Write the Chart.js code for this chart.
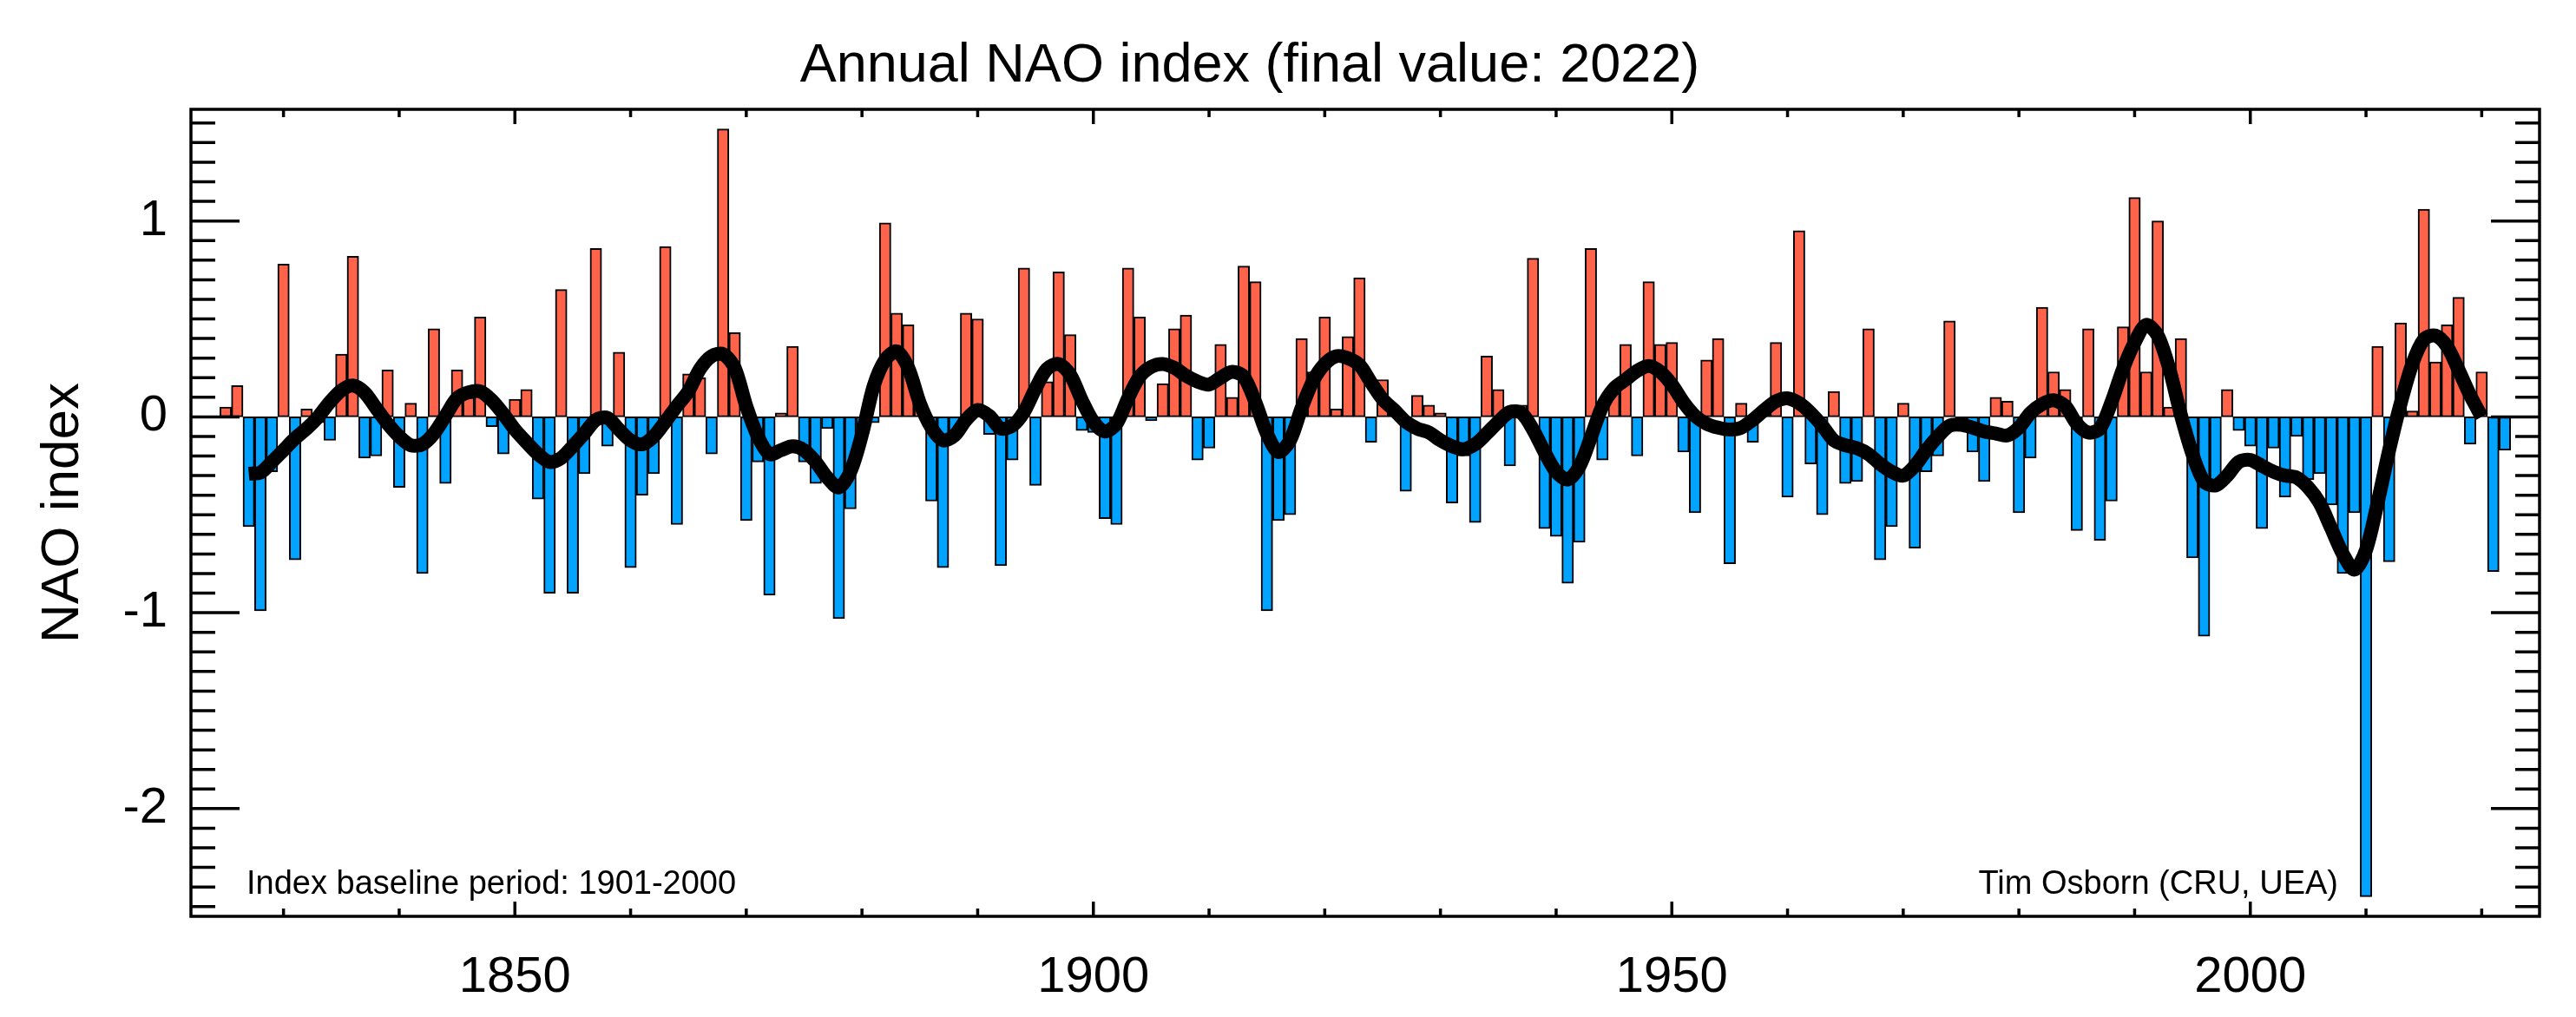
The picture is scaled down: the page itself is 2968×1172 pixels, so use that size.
<!DOCTYPE html>
<html lang="en">
<head>
<meta charset="UTF-8">
<title>Annual NAO index</title>
<script src="https://cdn.jsdelivr.net/npm/chart.js"></script>
<style>
  html, body { margin: 0; padding: 0; background: #fff; }
</style>
</head>
<body>
<canvas id="naoChart" width="2968" height="1172"></canvas>
<script>
// Annual NAO index, one value per year from 1825 to 2022
const firstYear = 1825;
const nao = [
  0.05, 0.16, -0.56, -0.99, -0.28,                                   // 1825-1829
  0.78, -0.73, 0.04, -0.03, -0.12, 0.32, 0.82, -0.21, -0.20, 0.24,   // 1830s
  -0.36, 0.07, -0.80, 0.45, -0.34, 0.24, 0.10, 0.51, -0.05, -0.19,   // 1840s
  0.09, 0.14, -0.42, -0.90, 0.65, -0.90, -0.29, 0.86, -0.15, 0.33,   // 1850s
  -0.77, -0.40, -0.29, 0.87, -0.55, 0.22, 0.20, -0.19, 1.47, 0.43,   // 1860s
  -0.53, -0.23, -0.91, 0.02, 0.36, -0.23, -0.34, -0.06, -1.03, -0.47, // 1870s
  -0.10, -0.03, 0.99, 0.53, 0.47, 0.05, -0.43, -0.77, -0.10, 0.53,   // 1880s
  0.50, -0.09, -0.76, -0.22, 0.76, -0.35, 0.18, 0.74, 0.42, -0.07,   // 1890s
  -0.08, -0.52, -0.55, 0.76, 0.51, -0.02, 0.17, 0.45, 0.52, -0.22,   // 1900s
  -0.16, 0.37, 0.10, 0.77, 0.69, -0.99, -0.53, -0.50, 0.40, 0.23,    // 1910s
  0.51, 0.04, 0.41, 0.71, -0.13, 0.19, 0.02, -0.38, 0.11, 0.06,      // 1920s
  0.02, -0.44, -0.20, -0.54, 0.31, 0.14, -0.25, 0.06, 0.81, -0.57,   // 1930s
  -0.61, -0.85, -0.64, 0.86, -0.22, 0.12, 0.37, -0.20, 0.69, 0.37,   // 1940s
  0.38, -0.18, -0.49, 0.29, 0.40, -0.75, 0.07, -0.13, 0.03, 0.38,    // 1950s
  -0.41, 0.95, -0.24, -0.50, 0.13, -0.34, -0.33, 0.45, -0.73, -0.56, // 1960s
  0.07, -0.67, -0.28, -0.20, 0.49, -0.05, -0.18, -0.33, 0.10, 0.08,  // 1970s
  -0.49, -0.21, 0.56, 0.23, 0.14, -0.58, 0.45, -0.63, -0.43, 0.46,   // 1980s
  1.12, 0.23, 1.00, 0.05, 0.40, -0.72, -1.12, -0.35, 0.14, -0.07,    // 1990s
  -0.15, -0.57, -0.16, -0.41, -0.10, -0.32, -0.29, -0.45, -0.80, -0.49, // 2000s
  -2.45, 0.36, -0.74, 0.48, 0.03, 1.06, 0.28, 0.47, 0.61, -0.14,     // 2010s
  0.23, -0.79, -0.17                                                 // 2020-2022
];
const years = nao.map((v, i) => firstYear + i);

// Smoothed curve (thick black line), 1827 to 2020
const smoothFirstYear = 1827;
const smooth = [
  -0.29, -0.285, -0.23,                                                     // 1827-1829
  -0.17, -0.11, -0.06, 0.0, 0.075, 0.135, 0.16, 0.125, 0.045, -0.035,       // 1830s
  -0.10, -0.145, -0.14, -0.085, 0.005, 0.095, 0.125, 0.13, 0.085, 0.015,    // 1840s
  -0.065, -0.13, -0.19, -0.23, -0.21, -0.15, -0.085, -0.015, -0.005, -0.065, // 1850s
  -0.12, -0.14, -0.10, -0.025, 0.055, 0.13, 0.245, 0.31, 0.32, 0.25,        // 1860s
  0.055, -0.10, -0.19, -0.17, -0.15, -0.17, -0.23, -0.31, -0.36, -0.28,     // 1870s
  -0.09, 0.155, 0.29, 0.335, 0.25, 0.07, -0.055, -0.12, -0.095, -0.015,     // 1880s
  0.035, 0.005, -0.06, -0.045, 0.025, 0.145, 0.245, 0.27, 0.215, 0.085,     // 1890s
  -0.025, -0.075, -0.035, 0.095, 0.205, 0.255, 0.27, 0.25, 0.21, 0.18,      // 1900s
  0.165, 0.20, 0.23, 0.205, 0.075, -0.085, -0.18, -0.12, 0.045, 0.185,      // 1910s
  0.27, 0.31, 0.30, 0.265, 0.175, 0.09, 0.035, -0.025, -0.06, -0.08,        // 1920s
  -0.12, -0.15, -0.165, -0.14, -0.085, -0.025, 0.025, 0.02, -0.065, -0.18,  // 1930s
  -0.28, -0.32, -0.255, -0.105, 0.055, 0.145, 0.19, 0.235, 0.26, 0.23,      // 1940s
  0.165, 0.075, 0.005, -0.035, -0.055, -0.065, -0.055, -0.015, 0.035, 0.08, // 1950s
  0.095, 0.07, 0.02, -0.045, -0.12, -0.145, -0.16, -0.19, -0.24, -0.28,     // 1960s
  -0.30, -0.25, -0.17, -0.10, -0.045, -0.04, -0.055, -0.075, -0.085, -0.095, // 1970s
  -0.055, 0.02, 0.065, 0.085, 0.055, -0.035, -0.08, -0.06, 0.075, 0.245,    // 1980s
  0.38, 0.47, 0.415, 0.245, 0.01, -0.19, -0.33, -0.35, -0.30, -0.23,        // 1990s
  -0.22, -0.25, -0.28, -0.30, -0.31, -0.36, -0.44, -0.57, -0.70, -0.78,     // 2000s
  -0.68, -0.44, -0.17, 0.07, 0.27, 0.395, 0.415, 0.36, 0.24, 0.11,          // 2010s
  0.0                                                                       // 2020
];
const smoothYears = smooth.map((v, i) => smoothFirstYear + i);

// Axis labels
const xTickYears = [1850, 1900, 1950, 2000];
const yTickValues = [-2, -1, 0, 1];

const posColour = "rgb(255, 99, 74)";
const negColour = "rgb(0, 163, 255)";
const fontFamily = "'Liberation Sans', Arial, Helvetica, sans-serif";

Chart.defaults.font.family = fontFamily;
Chart.defaults.color = "#000";

// Frame plus inward IDL-style ticks on all four sides
const frameTicks = {
  id: "frameTicks",
  afterDraw(chart) {
    const { ctx, chartArea: a } = chart;
    const x = chart.scales.x;
    const y = chart.scales.y;
    ctx.save();
    ctx.strokeStyle = "#000";
    ctx.lineWidth = 3.5;
    ctx.beginPath();
    for (let yr = 1830; yr <= 2020; yr += 10) {
      const px = x.getPixelForValue(yr);
      const len = yr % 50 === 0 ? 17 : 9;
      ctx.moveTo(px, a.bottom);
      ctx.lineTo(px, a.bottom - len);
      ctx.moveTo(px, a.top);
      ctx.lineTo(px, a.top + len);
    }
    for (let i = -25; i <= 15; i++) {
      const py = y.getPixelForValue(i / 10);
      const len = i % 10 === 0 ? 56 : 28;
      ctx.moveTo(a.left, py);
      ctx.lineTo(a.left + len, py);
      ctx.moveTo(a.right, py);
      ctx.lineTo(a.right - len, py);
    }
    ctx.stroke();
    ctx.strokeRect(a.left, a.top, a.right - a.left, a.bottom - a.top);
    ctx.restore();
  }
};

// Title and the two small notes inside the plot
const notes = {
  id: "notes",
  afterDraw(chart) {
    const { ctx } = chart;
    ctx.save();
    ctx.fillStyle = "#000";
    ctx.textBaseline = "alphabetic";
    ctx.font = "63px " + fontFamily;
    ctx.textAlign = "center";
    ctx.fillText("Annual NAO index (final value: 2022)", 1440, 94);
    ctx.font = "38px " + fontFamily;
    ctx.textAlign = "left";
    ctx.fillText("Index baseline period: 1901-2000", 284, 1030);
    ctx.textAlign = "right";
    ctx.fillText("Tim Osborn (CRU, UEA)", 2694, 1030);
    ctx.restore();
  }
};

const ctx = document.getElementById("naoChart").getContext("2d");
const naoChart = new Chart(ctx, {
  type: "bar",
  data: {
    datasets: [
      {
        type: "line",
        data: smoothYears.map((yr, i) => ({ x: yr, y: smooth[i] })),
        borderColor: "#000",
        borderWidth: 16,
        borderJoinStyle: "round",
        pointRadius: 0,
        tension: 0.3,
        fill: false,
        order: 1
      },
      {
        type: "bar",
        data: years.map((yr, i) => ({ x: yr, y: nao[i] })),
        backgroundColor: (c) => (c.raw && c.raw.y < 0 ? negColour : posColour),
        borderColor: "#000",
        borderWidth: 2,
        borderSkipped: false,
        barPercentage: 1,
        categoryPercentage: 1,
        order: 2
      }
    ]
  },
  options: {
    responsive: false,
    devicePixelRatio: 1,
    animation: false,
    layout: { padding: { left: 0, right: 42, top: 126, bottom: 0 } },
    plugins: {
      legend: { display: false },
      tooltip: { enabled: false },
      title: { display: false }
    },
    scales: {
      x: {
        type: "linear",
        min: 1822,
        max: 2025,
        offset: false,
        grid: { display: false },
        border: { display: false },
        afterBuildTicks: (scale) => {
          scale.ticks = xTickYears.map((v) => ({ value: v }));
        },
        afterFit: (scale) => {
          scale.height = 116;
        },
        ticks: {
          padding: 28,
          maxRotation: 0,
          autoSkip: false,
          font: { size: 58 },
          callback: (v) => String(v)
        }
      },
      y: {
        type: "linear",
        min: -2.55,
        max: 1.57,
        grid: { display: false },
        border: { display: false },
        afterBuildTicks: (scale) => {
          scale.ticks = yTickValues.map((v) => ({ value: v }));
        },
        afterFit: (scale) => {
          scale.width = 220;
        },
        ticks: {
          padding: 19,
          autoSkip: false,
          font: { size: 58 },
          callback: (v) => String(v)
        },
        title: {
          display: true,
          text: "NAO index",
          font: { size: 62 },
          padding: { top: 36, bottom: 0 }
        }
      }
    }
  },
  plugins: [frameTicks, notes]
});
</script>
</body>
</html>
